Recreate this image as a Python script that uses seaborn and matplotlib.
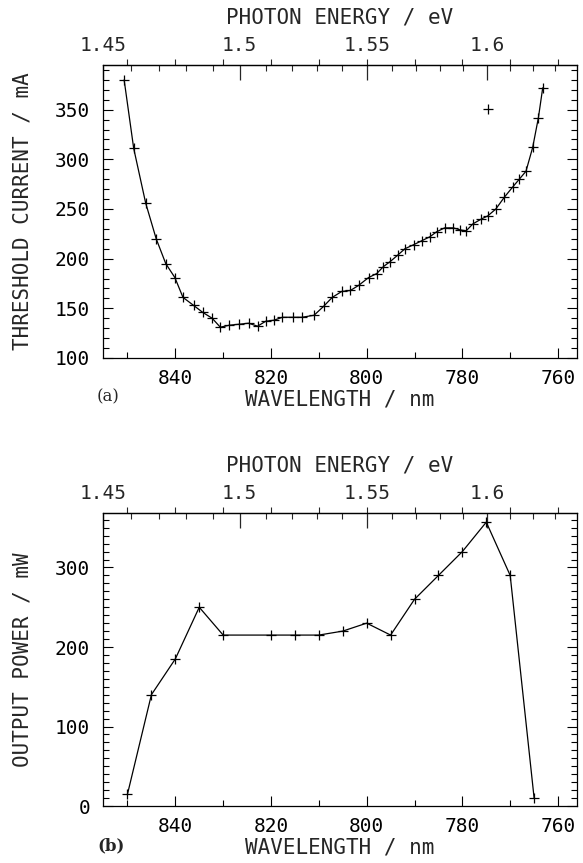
import numpy as np
import matplotlib
matplotlib.use('Agg')
import matplotlib.pyplot as plt
import seaborn as sns
from matplotlib.ticker import MultipleLocator, FixedLocator, FixedFormatter

# (a) threshold current vs wavelength
wl_a = [850.7, 848.7, 846.2, 844.0, 842.0, 840.1, 838.4, 836.2, 834.3, 832.3,
        830.6, 828.7, 826.6, 824.7, 822.8, 821.1, 819.4, 817.6, 815.5, 813.5,
        811.0, 809.0, 807.2, 805.2, 803.4, 801.7, 799.6, 797.9, 796.5, 795.1,
        793.4, 792.0, 790.2, 788.5, 786.8, 785.4, 783.7, 781.9, 780.5, 779.2,
        777.8, 776.0, 774.7, 773.0, 771.2, 769.5, 768.1, 766.7, 765.3, 764.1,
        763.2]
ith_a = [380, 311, 256, 220, 195, 181, 161, 153, 146, 140,
         131, 133, 134, 135, 132, 137, 138, 141, 141, 141,
         143, 152, 161, 167, 168, 173, 181, 185, 192, 197,
         204, 210, 214, 218, 222, 227, 231, 231, 229, 228,
         235, 240, 243, 250, 262, 272, 280, 288, 312, 342,
         372]
# stray point above the curve
wl_stray = [774.7]
ith_stray = [351]

# (b) output power vs wavelength
wl_b = [850, 845, 840, 835, 830, 820, 815, 810, 805, 800, 795, 790, 785, 780, 775, 770, 765]
pow_b = [15, 140, 185, 250, 215, 215, 215, 215, 220, 230, 215, 260, 290, 320, 357, 290, 10]

wl_ticks = [840, 820, 800, 780, 760]
ev_ticks = [1.45, 1.5, 1.55, 1.6]
ev_labels = ['1.45', '1.5', '1.55', '1.6']

sns.set_style('ticks')
plt.rcParams['font.family'] = ['DejaVu Sans Mono']
plt.rcParams['axes.edgecolor'] = 'black'


def to_ev(x):
    x = np.asarray(x, dtype=float)
    with np.errstate(divide='ignore', invalid='ignore'):
        return 1239.84 / x


def style_panel(ax, ylabel, ylim, ymajor, yminor):
    ax.set_xlim(855.2, 756)
    ax.set_ylim(*ylim)
    ax.xaxis.set_major_locator(FixedLocator(wl_ticks))
    ax.xaxis.set_minor_locator(MultipleLocator(10))
    ax.yaxis.set_major_locator(MultipleLocator(ymajor))
    ax.yaxis.set_minor_locator(MultipleLocator(yminor))
    ax.tick_params(axis='x', which='both', direction='in', bottom=True, top=False,
                   labelsize=14, pad=8, colors='black')
    ax.tick_params(axis='y', which='both', direction='in', left=True, right=True,
                   labelsize=14, pad=9, colors='black')
    ax.tick_params(which='major', length=7, width=0.8)
    ax.tick_params(which='minor', length=4, width=0.8)
    ax.set_xlabel('WAVELENGTH / nm', fontsize=15, labelpad=1)
    ax.set_ylabel(ylabel, fontsize=15, labelpad=16)
    for sp in ax.spines.values():
        sp.set_linewidth(0.9)

    # wavelength ticks on the upper frame, pointing outwards
    top_wl = ax.secondary_xaxis('top')
    top_wl.xaxis.set_major_locator(MultipleLocator(10))
    top_wl.tick_params(direction='out', length=4, width=0.8, labeltop=False)

    # photon energy scale
    top_ev = ax.secondary_xaxis('top', functions=(to_ev, to_ev))
    top_ev.xaxis.set_major_locator(FixedLocator(ev_ticks))
    top_ev.xaxis.set_major_formatter(FixedFormatter(ev_labels))
    top_ev.xaxis.set_minor_locator(MultipleLocator(0.01))
    top_ev.tick_params(which='major', direction='in', length=11, width=0.9,
                       labelsize=14, pad=7)
    top_ev.tick_params(which='minor', direction='in', length=4, width=0.8)
    top_ev.set_xlabel('PHOTON ENERGY / eV', fontsize=15, labelpad=9)


fig = plt.figure(figsize=(5.83, 8.63), dpi=100)
ax_a = fig.add_axes([0.176, 0.5852, 0.814, 0.3395])
ax_b = fig.add_axes([0.176, 0.066, 0.814, 0.340])

sns.lineplot(x=wl_a, y=ith_a, ax=ax_a, color='black', linewidth=0.9,
             marker='+', markersize=7, markeredgewidth=0.9, markeredgecolor='black')
sns.scatterplot(x=wl_stray, y=ith_stray, ax=ax_a, color='black', marker='+',
                s=50, linewidth=0.9)
style_panel(ax_a, 'THRESHOLD CURRENT / mA', (100, 395), 50, 10)

sns.lineplot(x=wl_b, y=pow_b, ax=ax_b, color='black', linewidth=0.9,
             marker='+', markersize=7, markeredgewidth=0.9, markeredgecolor='black')
style_panel(ax_b, 'OUTPUT POWER / mW', (0, 369), 100, 10)

fig.text(0.185, 0.54, '(a)', family=['DejaVu Serif'], fontsize=12, ha='center', va='center')
fig.text(0.19, 0.02, '(b)', family=['DejaVu Serif'], fontsize=12, fontweight='bold',
         ha='center', va='center')

fig.savefig('out.png', dpi=100)
